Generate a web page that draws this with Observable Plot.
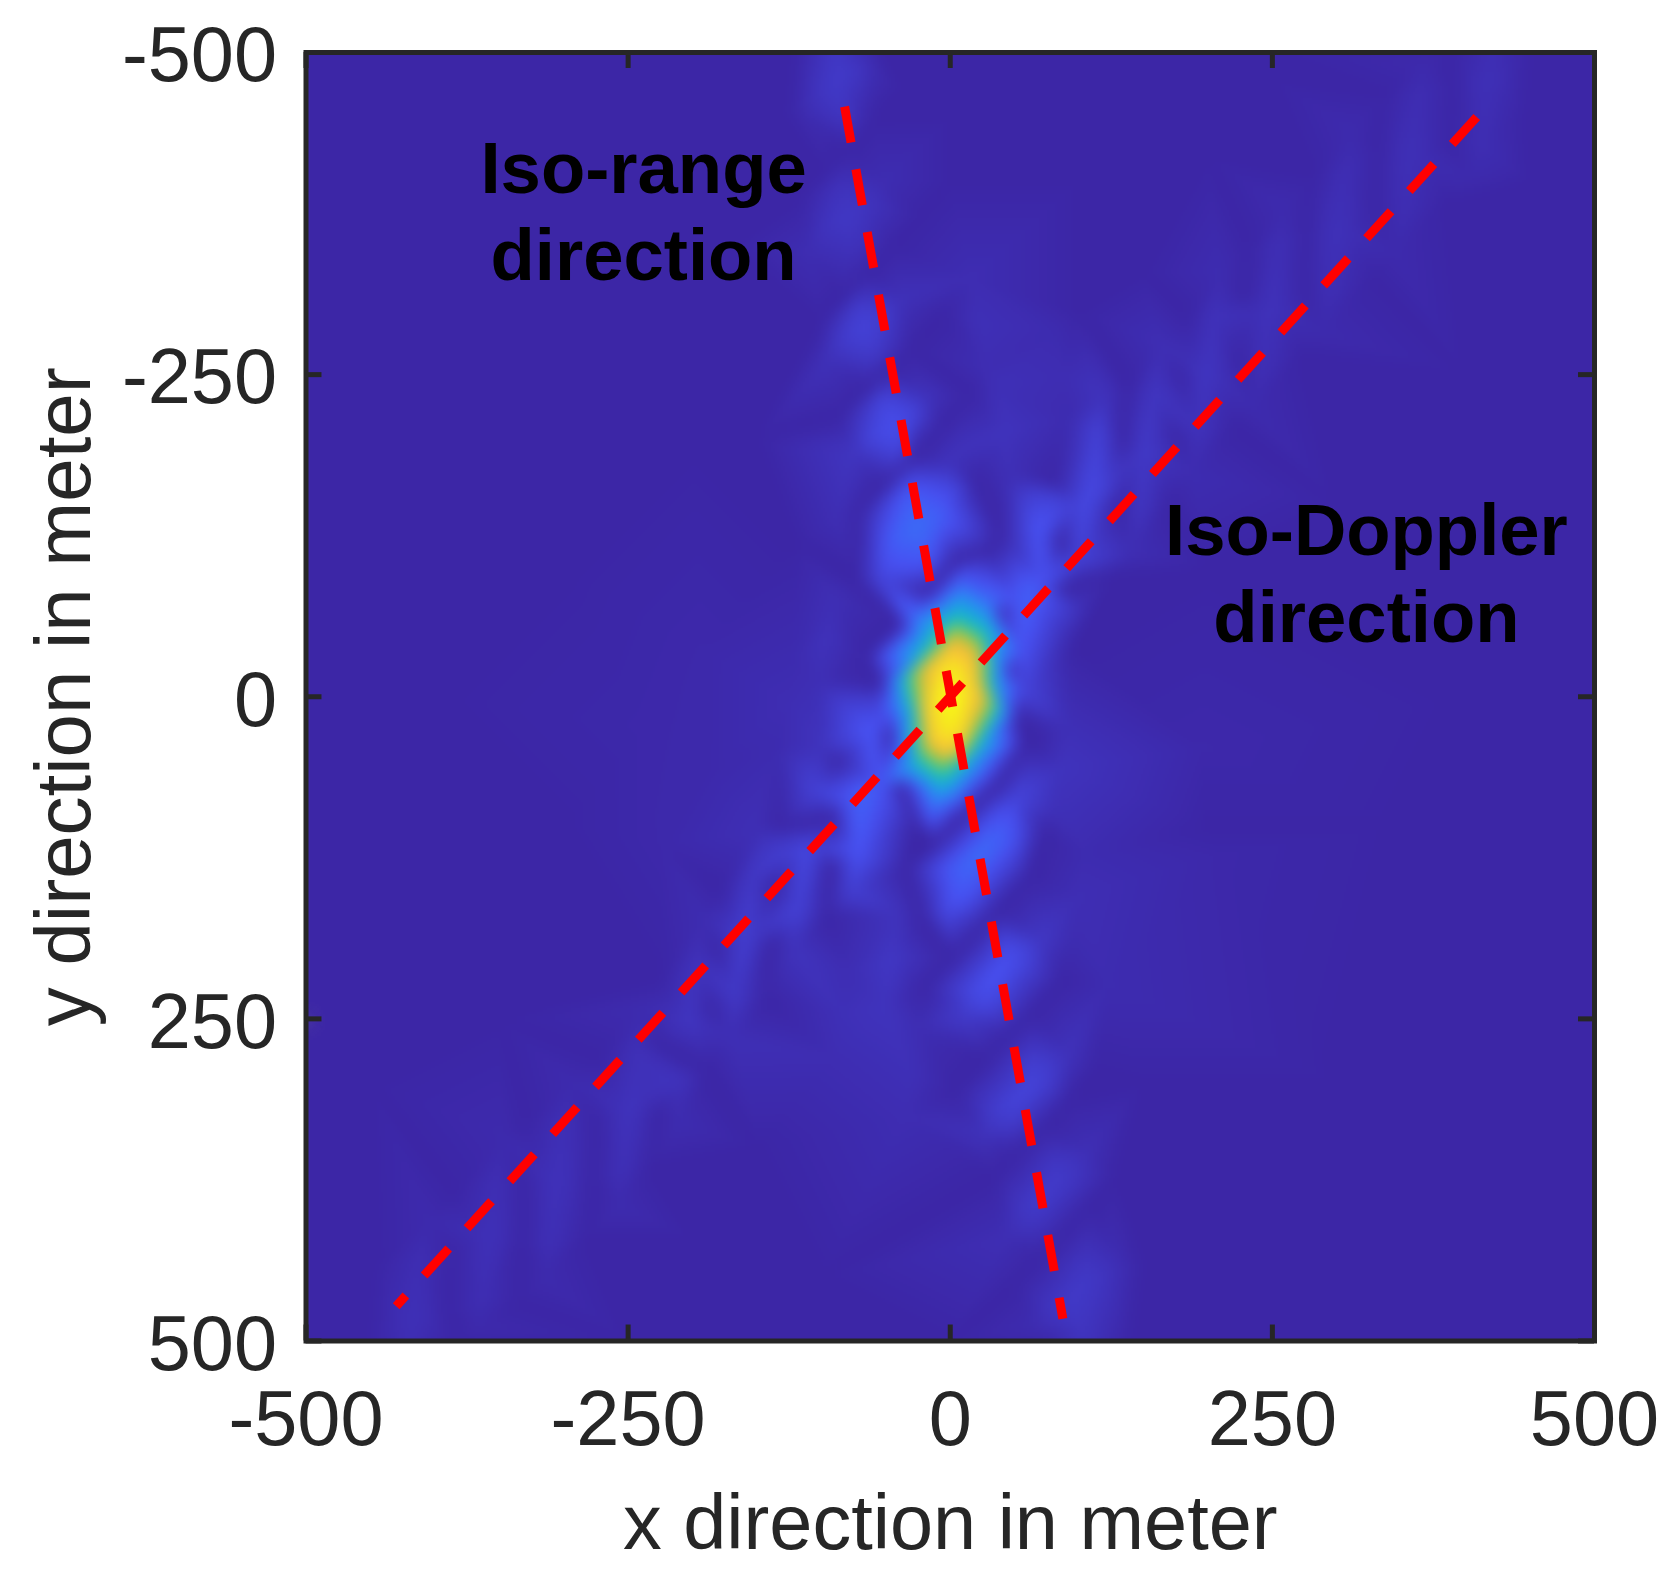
<!DOCTYPE html>
<html>
<head>
<meta charset="utf-8">
<script src="https://cdn.jsdelivr.net/npm/d3@7"></script>
<script src="https://cdn.jsdelivr.net/npm/@observablehq/plot@0.6"></script>
<style>html,body{margin:0;padding:0;background:#fff}svg{display:block}</style>
</head>
<body>
<div id="chart"></div>
<script>
const tickValues = [-500, -250, 0, 250, 500];
const xLabel = "x direction in meter";
const yLabel = "y direction in meter";
const isoRangeText = "Iso-range\ndirection";
const isoDopplerText = "Iso-Doppler\ndirection";

// ambiguity magnitude: [x m, y m, normalised value]
const mainLobe = [
  [0,2,1.05],[7,0,.93],[-7,3,.93],[1,-14,.93],[-1,18,.93],
  [19,-2,.75],[-18,3,.75],[1,-36,.75],[-1,42,.75],[14,-27,.75],[12,29,.75],[-12,-23,.75],[-14,33,.75],
  [26,-7,.5],[-23,3,.5],[4,-51,.5],[-5,50,.5],[22,-39,.5],[15,32,.5],[-13,-32,.5],[-20,39,.5],
  [30,-10,.35],[-28,6,.35],[5,-61,.35],[-6,64,.35],[26,-49,.35],[18,40,.35],[-16,-38,.35],[-24,51,.35],
  [35,-10,.25],[-36,6,.25],[6,-74,.25],[-9,73,.25],[30,-59,.25],[19,46,.25],[-21,-48,.25],[-32,57,.25],
  [40,-23,.15],[-43,11,.15],[8,-87,.15],[-13,88,.15],[33,-72,.15],[24,56,.15],[-28,-62,.15],[-33,62,.15],
  [45,-15,.09],[-48,14,.09],[8,-96,.09],[-14,98,.09]
];
const rangeLobesUp = [
  [-26,-131,.15],[-44,-122,.125],[-8,-140,.125],[-33,-158,.115],[-18,-106,.11],[-54,-90,.07],[5,-162,.07],
  [-45,-210,.09],[-62,-200,.07],[-28,-220,.07],[-52,-232,.07],[-38,-190,.07],[-74,-190,.035],[-18,-232,.03],
  [-67,-288,.065],[-84,-278,.05],[-50,-298,.05],[-72,-304,.05],[-60,-268,.05],[-96,-262,.025],[-38,-308,.025],
  [-80,-373,.04],[-96,-364,.032],[-64,-382,.032],[-86,-395,.03],[-74,-352,.03],[-110,-345,.016],[-52,-400,.015],
  [-85,-479,.045],[-100,-470,.036],[-70,-488,.036],[-90,-500,.04],[-80,-448,.034],[-112,-452,.015],[-60,-490,.018]
];
const rangeLobesDown = [
  [24,120,.15],[44,108,.12],[4,132,.125],[12,152,.11],[34,95,.1],[-3,168,.08],[52,78,.07],
  [36,215,.1],[18,226,.08],[54,204,.08],[28,238,.08],[44,192,.08],[12,246,.05],[70,190,.04],
  [57,308,.07],[38,318,.056],[76,298,.056],[50,326,.056],[64,284,.056],[24,342,.025],[92,278,.028],
  [75,385,.05],[57,396,.04],[93,374,.04],[68,402,.04],[82,362,.04],[44,420,.018],[108,352,.02],
  [98,461,.045],[80,472,.036],[116,450,.036],[92,482,.036],[104,440,.036],[105,500,.03],[66,492,.015],[130,432,.015]
];
const dopplerLobesUp = [
  [61,-82,.13],[70,-130,.105],[53,-35,.105],[74,-88,.1],[50,-75,.1],[74,-160,.055],[56,-5,.07],
  [108,-155,.08],[115,-205,.065],[101,-108,.065],[120,-158,.06],[95,-150,.06],[120,-235,.03],[100,-68,.03],
  [153,-192,.045],[159,-240,.036],[147,-145,.036],[163,-192,.034],[144,-192,.034],[164,-275,.018],[142,-110,.018],
  [199,-251,.035],[205,-298,.028],[193,-204,.028],[209,-251,.026],[189,-251,.026],[210,-330,.014],[188,-172,.014],
  [248,-301,.028],[254,-348,.022],[242,-254,.022],[258,-301,.021],[238,-301,.021],[259,-380,.011],[237,-222,.011],
  [300,-360,.025],[306,-406,.02],[294,-314,.02],[310,-360,.019],[290,-360,.019],[311,-440,.01],[289,-282,.01],
  [357,-420,.022],[363,-466,.018],[351,-374,.018],[367,-420,.017],[347,-420,.017],[368,-495,.009],[346,-342,.009],
  [417,-476,.022],[421,-500,.02],[411,-430,.018],[427,-476,.017],[407,-476,.017],[405,-400,.009]
];
const dopplerLobesDown = [
  [-66,73,.135],[-60,28,.11],[-73,120,.105],[-54,70,.105],[-79,78,.105],[-56,5,.06],[-78,150,.06],
  [-111,119,.08],[-104,74,.065],[-118,165,.065],[-100,119,.06],[-122,119,.06],[-100,40,.03],[-122,195,.03],
  [-160,185,.055],[-153,140,.044],[-167,232,.044],[-150,185,.04],[-170,185,.04],[-150,105,.02],[-170,265,.02],
  [-202,251,.037],[-196,205,.03],[-208,298,.03],[-192,251,.028],[-212,251,.028],[-192,170,.014],[-211,330,.014],
  [-248,319,.03],[-242,272,.024],[-254,366,.024],[-238,319,.023],[-258,319,.023],[-238,240,.012],[-257,396,.012],
  [-305,375,.027],[-299,330,.022],[-311,422,.022],[-295,375,.02],[-315,375,.02],[-295,298,.01],[-314,452,.01],
  [-357,417,.024],[-351,372,.019],[-363,465,.019],[-347,417,.018],[-367,417,.018],[-347,340,.009],[-366,490,.009],
  [-417,482,.022],[-411,437,.018],[-420,500,.02],[-405,482,.017],[-428,482,.017],[-405,405,.009]
];
const weakLobes = [
  [-45,205,.04],[-40,170,.03],[-50,240,.03],
  [-85,246,.022],[-80,212,.016],[-90,280,.016],
  [-29,292,.022],[-24,258,.016],[-34,325,.016],
  [85,55,.03],[90,25,.022],[80,90,.022],
  [-96,-46,.028],[-90,-80,.02],[-102,-10,.02],[-85,-140,.02],
  [0,-177,.035],[5,-190,.028],
  [41,-205,.03],[46,-170,.022],[36,-240,.022],
  [21,-290,.022],[26,-255,.016],[16,-325,.016],
  [88,-251,.016],[93,-218,.012],[83,-285,.012],
  [99,154,.018],[104,122,.013],[94,188,.013],
  [122,223,.013],
  [-127,3,.016],[-121,-30,.012],[-133,38,.012],
  [-225,114,.006],[-186,55,.007],[-238,24,.005],[-192,-36,.006],[196,40,.006],[212,122,.005]
];
const nulls = [
  [-65,-31],[-39,-56],[-18,-80],[3,-103],[39,-126],
  [-34,132],[-13,114],[10,91],[34,70],[65,37],
  [-54,-10],[-47,29],[-39,68],[-26,99],
  [31,-113],[39,-67],[47,-23],[52,16],[57,37],
  [-72,-90],[20,-165],[-22,170],[72,105],
  [-70,-143],[-50,-165],[-30,-187],[-8,-210],[15,-235],
  [-85,-218],[-64,-239],[-47,-254],[-31,-270],[-5,-298],
  [-100,-290],[-82,-310],[-64,-329],[-45,-350],[-25,-372],
  [-115,-388],[-97,-408],[-80,-425],[-60,-448],[-40,-470],
  [-20,225],[2,202],[20,183],[36,166],[60,140],
  [5,305],[29,280],[45,263],[62,246],[85,220],
  [35,372],[52,354],[72,334],[92,312],[112,290],
  [52,455],[70,436],[88,417],[108,395],[128,372],
  [95,-40],[88,-85],[85,-120],[80,-165],
  [125,-95],[130,-150],[135,-195],[138,-240],
  [170,-150],[175,-200],[180,-250],[185,-295],
  [220,-210],[224,-260],[228,-310],[232,-350],
  [272,-265],[275,-315],[278,-360],[282,-405],
  [328,-325],[330,-380],[333,-425],[338,-468],
  [385,-385],[388,-430],[391,-475],
  [-88,50],[-90,95],[-92,130],[-96,170],
  [-132,100],[-136,145],[-139,190],[-143,235],
  [-178,150],[-181,195],[-185,245],[-188,290],
  [-225,220],[-227,270],[-230,320],[-233,365],
  [-272,280],[-275,330],[-278,375],[-282,420],
  [-329,330],[-331,380],[-333,425],[-336,470],
  [-385,385],[-387,435],[-389,480],
  [140,500],[150,440],[70,500],[-120,-500],[-125,-450],[-55,-500],[390,-500],[450,-500],[445,-450],[-450,500],[-385,500],[-445,440]
];
const background = [
  [-500,-500],[500,-500],[-500,500],[500,500],[0,-500],[-250,-500],[250,-500],[-500,-250],[-500,0],[-500,250],
  [500,-250],[500,0],[500,250],[-250,500],[0,500],[250,500],[375,500],[160,-500],
  [-400,-400],[-250,-400],[-200,-200],[-400,0],[-300,100],[-350,250],[-450,300],[200,-100],[300,-150],[400,-250],
  [450,-400],[200,100],[350,100],[300,300],[400,0],[150,300],[200,450],[-150,350],[-100,450],[-200,420],[-150,-200],
  [-170,-350],[-200,-480],[0,-400],[100,-400],[200,-420],[250,-480],[100,-300],[150,-330],[0,-450],[-300,-100],[-120,-120]
];

// parula-like colour map
const colorStops = [0,.1,.2,.3,.4,.5,.6,.7,.85,1];
const colorRamp = ["#3c26a6","#4752f4","#2d87f7","#12b1d6","#37c897","#abc739","#e4bb3a","#fdbd3d","#f5e61f","#f9fb15"];

// dashed guide lines, data coordinates
const isoRangeX = [-82, 87.4];
const isoRangeY = [-458, 482.7];
const isoDopplerX = [408.6, -430];
const isoDopplerY = [-450, 473];

const rows = [...mainLobe, ...rangeLobesUp, ...rangeLobesDown, ...dopplerLobesUp, ...dopplerLobesDown, ...weakLobes]
  .concat(nulls.map(d => [d[0], d[1], 0]), background.map(d => [d[0], d[1], 0]));

const ink = "#262626";
const font = "'Liberation Sans', Arial, sans-serif";
const tickLen = 12.4;

const plot = Plot.plot({
  width: 1672,
  height: 1575,
  marginLeft: 305.5,
  marginRight: 78,
  marginTop: 52,
  marginBottom: 234.5,
  style: {fontFamily: font, fontSize: "77px", color: ink, background: "#fff"},
  x: {domain: [-500, 500]},
  y: {domain: [-500, 500], reverse: true},
  color: {type: "linear", domain: colorStops, range: colorRamp, clamp: true},
  marks: [
    Plot.raster(rows, {
      x: d => d[0], y: d => d[1], fill: d => d[2],
      x1: -500, x2: 500, y1: -500, y2: 500,
      interpolate: "barycentric", pixelSize: 2, blur: 3
    }),
    Plot.ruleX(tickValues, {y1: -500, y2: -500 + tickLen, stroke: ink, strokeWidth: 5}),
    Plot.ruleX(tickValues, {y1: 500, y2: 500 - tickLen, stroke: ink, strokeWidth: 5}),
    Plot.ruleY(tickValues, {x1: -500, x2: -500 + tickLen, stroke: ink, strokeWidth: 5}),
    Plot.ruleY(tickValues, {x1: 500, x2: 500 - tickLen, stroke: ink, strokeWidth: 5}),
    Plot.frame({stroke: ink, strokeWidth: 5}),
    Plot.axisX({
      anchor: "bottom", ticks: tickValues, tickFormat: d => String(d), tickSize: 0, tickPadding: 49,
      fontSize: 77.5, label: xLabel, labelAnchor: "center", labelArrow: "none", labelOffset: 208
    }),
    Plot.axisY({
      anchor: "left", ticks: tickValues, tickFormat: d => String(d), tickSize: 0, tickPadding: 29,
      fontSize: 77.5, dy: 4, label: null
    }),
    Plot.axisY({
      anchor: "left", ticks: [], tickSize: 0, fontSize: 78, label: yLabel, labelAnchor: "center", labelArrow: "none", labelOffset: 271
    }),
    Plot.line(isoRangeX.map((x, i) => [x, isoRangeY[i]]), {
      x: d => d[0], y: d => d[1], stroke: "#ff0000", strokeWidth: 9, strokeDasharray: "36.5,27.2", strokeLinecap: "butt"
    }),
    Plot.line(isoDopplerX.map((x, i) => [x, isoDopplerY[i]]), {
      x: d => d[0], y: d => d[1], stroke: "#ff0000", strokeWidth: 9, strokeDasharray: "36.5,27.2", strokeLinecap: "butt"
    }),
    Plot.text([isoRangeText], {
      x: -238, y: -379, text: d => d, fontSize: 72.5, fontWeight: "bold", fill: "#000", lineHeight: 1.2, textAnchor: "middle"
    }),
    Plot.text([isoDopplerText], {
      x: 323, y: -98, text: d => d, fontSize: 72.5, fontWeight: "bold", fill: "#000", lineHeight: 1.2, textAnchor: "middle"
    })
  ]
});
document.getElementById("chart").appendChild(plot);
</script>
</body>
</html>
